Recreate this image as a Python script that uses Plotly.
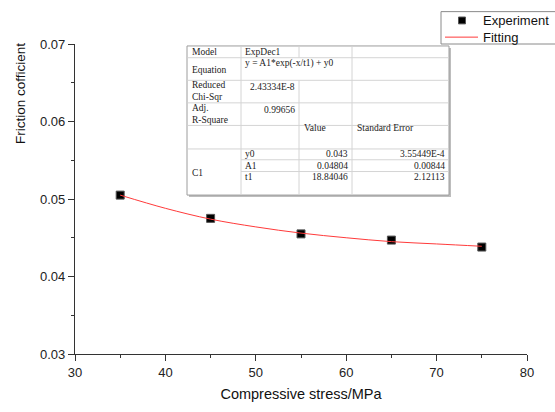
import plotly.graph_objects as go

# ---------------- data ----------------
stress = [35, 45, 55, 65, 75]
friction = [0.0505, 0.0475, 0.0455, 0.0447, 0.0438]

fit_stress = [35, 40, 45, 50, 55, 60, 65, 70, 75]
fit_friction = [0.0505, 0.0488, 0.0474, 0.0464, 0.0456, 0.0450, 0.0445, 0.0442, 0.0439]

x_ticks = [30, 40, 50, 60, 70, 80]
y_ticks = [0.03, 0.04, 0.05, 0.06, 0.07]

series_names = ["Experiment", "Fitting"]

# fit report table content
tbl_model = ["Model", "ExpDec1"]
tbl_equation = ["Equation", "y = A1*exp(-x/t1) + y0"]
tbl_chi = ["Reduced<br>Chi-Sqr", "2.43334E-8"]
tbl_r2 = ["Adj.<br>R-Square", "0.99656"]
tbl_header = ["Value", "Standard Error"]
tbl_group = "C1"
tbl_params = ["y0", "A1", "t1"]
tbl_values = ["0.043", "0.04804", "18.84046"]
tbl_errors = ["3.55449E-4", "0.00844", "2.12113"]

# ---------------- layout helpers (pixels -> paper) ----------------
L, T, R, B = 75, 44, 527, 360
W, H = R - L, B - T


def px(x):
    return (x - L) / W


def py(y):
    return (B - y) / H


MARKER_COLOR = "black"
LINE_COLOR = "#ff3a3a"
SANS = "Liberation Sans, Arial, sans-serif"

fig = go.Figure()
fig.add_trace(go.Scatter(
    x=stress, y=friction, mode="markers", name=series_names[0],
    marker=dict(symbol="square", size=8, color=MARKER_COLOR,
                line=dict(color="#555555", width=1)),
))
fig.add_trace(go.Scatter(
    x=fit_stress, y=fit_friction, mode="lines", name=series_names[1],
    line=dict(color=LINE_COLOR, width=1, shape="spline"),
))

shapes = []
annotations = []

# ---------------- fit report table ----------------
cx = [187, 241, 299, 352, 449]
ry = [46, 58, 81, 104, 127, 151, 162, 174, 198]
inner = dict(color="#d4d4d4", width=1)

shapes.append(dict(type="rect", xref="paper", yref="paper",
                   x0=px(cx[0] + 2), x1=px(cx[-1] + 2), y0=py(ry[0] + 2), y1=py(ry[-1] + 2),
                   fillcolor="#bdbdbd", line=dict(width=0), layer="above"))
shapes.append(dict(type="rect", xref="paper", yref="paper",
                   x0=px(cx[0]), x1=px(cx[-1]), y0=py(ry[0]), y1=py(ry[-1]),
                   fillcolor="white", line=dict(color="#9c9c9c", width=1), layer="above"))


def hline(y, x0, x1, line=inner):
    shapes.append(dict(type="line", xref="paper", yref="paper",
                       x0=px(x0), x1=px(x1), y0=py(y), y1=py(y), line=line, layer="above"))


def vline(x, y0, y1):
    shapes.append(dict(type="line", xref="paper", yref="paper",
                       x0=px(x), x1=px(x), y0=py(y0), y1=py(y1), line=inner, layer="above"))


for y in ry[1:6]:
    hline(y, cx[0] + 0.5, cx[-1] - 0.5)
for y in ry[6:8]:
    hline(y, cx[1], cx[-1] - 0.5)
vline(cx[1], ry[0] + 0.5, ry[-1] - 0.5)
vline(cx[2], ry[0] + 0.5, ry[1])
vline(cx[2], ry[2], ry[-1] - 0.5)
vline(cx[3], ry[0] + 0.5, ry[-1] - 0.5)

tfont = dict(family="Liberation Serif, Times New Roman, serif", size=9.5, color="#222222")


def txt(text, x, y, xanchor="left", font=tfont):
    annotations.append(dict(text=text, x=px(x), y=py(y), xref="paper", yref="paper",
                            xanchor=xanchor, yanchor="middle", showarrow=False,
                            font=font, align="left"))


txt(tbl_model[0], 190, 52)
txt(tbl_model[1], 243, 52)
txt(tbl_equation[0], 190, 70)
txt(tbl_equation[1], 243, 64)
txt(tbl_chi[0], 190, 92)
txt(tbl_chi[1], 297, 88, "right")
txt(tbl_r2[0], 190, 115)
txt(tbl_r2[1], 297, 111, "right")
txt(tbl_header[0], 302, 130)
txt(tbl_header[1], 355, 130)
txt(tbl_group, 190, 176)
row_y = [156, 168, 180]
for i in range(3):
    txt(tbl_params[i], 243, row_y[i])
    txt(tbl_values[i], 350, row_y[i], "right")
    txt(tbl_errors[i], 447, row_y[i], "right")

# ---------------- legend (drawn as in the reference: box runs off the right edge) ----------------
shapes.append(dict(type="rect", xref="paper", yref="paper",
                   x0=px(441), x1=px(600), y0=py(11), y1=py(44),
                   fillcolor="white", line=dict(color="#8a8a8a", width=1), layer="above"))
shapes.append(dict(type="rect", xref="paper", yref="paper",
                   x0=px(458.5), x1=px(465.5), y0=py(16.5), y1=py(23.5),
                   fillcolor=MARKER_COLOR, line=dict(color="#555555", width=1), layer="above"))
hline(37, 445, 478, line=dict(color=LINE_COLOR, width=1))
lfont = dict(family=SANS, size=13, color="#111111")
txt(series_names[0], 481, 20, font=lfont)
txt(series_names[1], 481, 37, font=lfont)

# y-axis title (placed high, as in the reference)
annotations.append(dict(text="Friction cofficient", x=px(20), y=py(95), xref="paper", yref="paper",
                        textangle=-90, showarrow=False, xanchor="center", yanchor="middle",
                        font=dict(family=SANS, size=13.5, color="#111111")))

axis_common = dict(
    showgrid=False, zeroline=False, showline=True, linecolor="#333333", linewidth=1.3,
    ticks="outside", ticklen=6, tickwidth=1.2, tickcolor="#333333",
    tickfont=dict(family=SANS, size=13, color="#222222"),
)

fig.update_layout(
    width=555, height=412,
    margin=dict(l=L, r=555 - R, t=T, b=412 - B),
    paper_bgcolor="white", plot_bgcolor="white",
    showlegend=False,
    xaxis=dict(range=[30, 80], tickvals=x_ticks,
               minor=dict(dtick=5, ticks="outside", ticklen=3, tickcolor="#333333"),
               title=dict(text="Compressive stress/MPa", standoff=10,
                          font=dict(family=SANS, size=14.5, color="#111111")),
               **axis_common),
    yaxis=dict(range=[0.03, 0.07], tickvals=y_ticks, tickformat=".2f",
               minor=dict(dtick=0.005, ticks="outside", ticklen=3, tickcolor="#333333"),
               **axis_common),
    shapes=shapes,
    annotations=annotations,
)

fig.write_html("out.html")
